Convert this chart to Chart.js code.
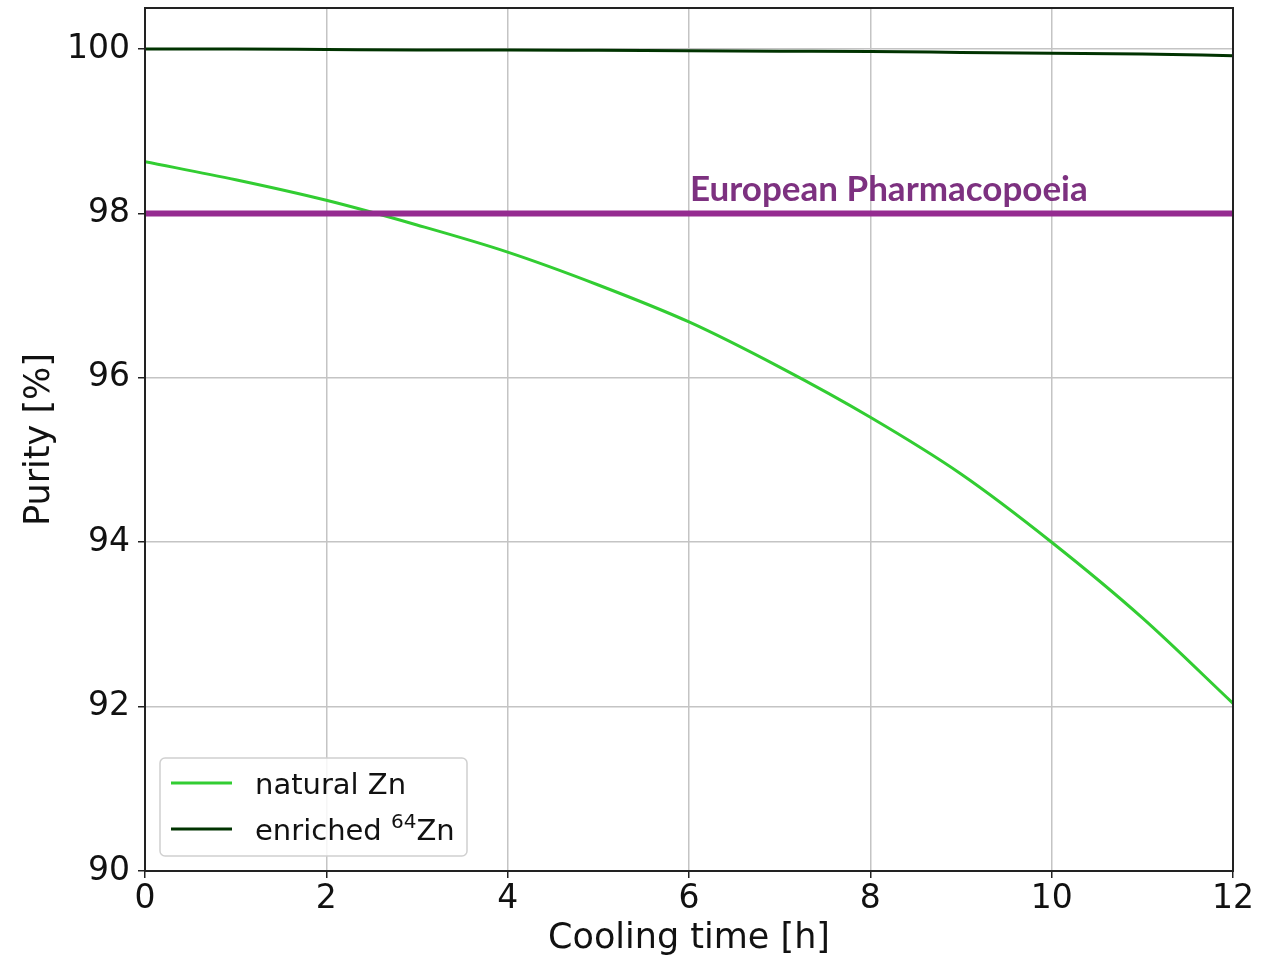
<!DOCTYPE html>
<html>
<head>
<meta charset="utf-8">
<script src="https://cdn.jsdelivr.net/npm/chart.js@4"></script>
<style>
  html, body { margin: 0; padding: 0; background: #fff; }
  #wrap { width: 1276px; height: 960px; position: relative; }
</style>
</head>
<body>
<div id="wrap"><canvas id="chart"></canvas></div>
<script>
// Cooling time [h]
const hours = [0, 1, 2, 3, 4, 5, 6, 7, 8, 9, 10, 11, 12];
// Purity [%]
const naturalZn = [98.63, 98.41, 98.16, 97.86, 97.53, 97.13, 96.68, 96.13, 95.52, 94.83, 94.00, 93.08, 92.04];
const enrichedZn = [100.0, 100.0, 99.995, 99.99, 99.99, 99.985, 99.98, 99.975, 99.97, 99.96, 99.95, 99.94, 99.92];
const pharmaLimit = 98;
const pharmaLabel = 'European Pharmacopoeia';
const xTicks = [0, 2, 4, 6, 8, 10, 12];
const yTicks = [90, 92, 94, 96, 98, 100];

const font = 'DejaVu Sans';
const gridColor = '#c4c4c4';
const axisColor = '#222222';
const supDigits = '\u2070\u00b9\u00b2\u00b3\u2074\u2075\u2076\u2077\u2078\u2079';

function pts(xs, ys) {
  return xs.map((x, i) => ({x: x, y: ys[i]}));
}

// draw a label, rendering unicode superscript digits as raised smaller text
function drawLabel(ctx, text, x, y, size) {
  let parts = [];
  for (const ch of text) {
    const sup = supDigits.indexOf(ch) >= 0;
    const c = sup ? String(supDigits.indexOf(ch)) : ch;
    const last = parts[parts.length - 1];
    if (last && last.sup === sup) last.t += c;
    else parts.push({t: c, sup: sup});
  }
  parts.forEach(p => {
    const s = p.sup ? Math.round(size * 0.7) : size;
    ctx.font = s + 'px ' + font;
    ctx.fillText(p.t, x, p.sup ? y - size * 0.4 : y);
    x += ctx.measureText(p.t).width;
  });
}

// frame + annotation + legend inside the axes
const extras = {
  id: 'extras',
  afterDatasetsDraw(chart) {
    const {ctx, chartArea: a, scales} = chart;
    ctx.save();

    // annotation text above the limit line
    ctx.fillStyle = '#7d3180';
    ctx.font = 'bold 35px Lato';
    ctx.textAlign = 'left';
    ctx.textBaseline = 'alphabetic';
    ctx.fillText(pharmaLabel, scales.x.getPixelForValue(6) + 1, scales.y.getPixelForValue(pharmaLimit) - 12);

    // spines
    ctx.strokeStyle = axisColor;
    ctx.lineWidth = 2;
    ctx.strokeRect(a.left, a.top, a.right - a.left, a.bottom - a.top);

    // legend box
    const bx = 160, by = 758, bw = 307, bh = 98;
    ctx.beginPath();
    ctx.roundRect(bx, by, bw, bh, 5);
    ctx.fillStyle = 'rgba(255,255,255,0.85)';
    ctx.fill();
    ctx.strokeStyle = '#d0d0d0';
    ctx.lineWidth = 1.5;
    ctx.stroke();

    const entries = chart.data.datasets.filter(d => d.inLegend);
    entries.forEach((d, i) => {
      const y = 783 + i * 46;
      ctx.strokeStyle = d.borderColor;
      ctx.lineWidth = 3;
      ctx.beginPath();
      ctx.moveTo(171, y);
      ctx.lineTo(232, y);
      ctx.stroke();
      ctx.fillStyle = '#111';
      ctx.textBaseline = 'alphabetic';
      drawLabel(ctx, d.label, 255, y + 11, 29);
    });
    ctx.restore();
  }
};

const config = {
  type: 'line',
  data: {
    datasets: [
      {
        label: pharmaLabel,
        data: pts([0, 12], [pharmaLimit, pharmaLimit]),
        borderColor: '#952b90',
        borderWidth: 6,
        pointRadius: 0,
        order: 0
      },
      {
        label: 'natural Zn',
        inLegend: true,
        data: pts(hours, naturalZn),
        borderColor: '#32cd32',
        borderWidth: 3,
        pointRadius: 0,
        cubicInterpolationMode: 'monotone',
        order: 1
      },
      {
        label: 'enriched \u2076\u2074Zn',
        inLegend: true,
        data: pts(hours, enrichedZn),
        borderColor: '#003300',
        borderWidth: 3,
        pointRadius: 0,
        cubicInterpolationMode: 'monotone',
        order: 1
      }
    ]
  },
  options: {
    responsive: false,
    animation: false,
    events: [],
    layout: {padding: {top: 8, right: 43, left: 0, bottom: 0}},
    plugins: {
      legend: {display: false},
      tooltip: {enabled: false}
    },
    scales: {
      x: {
        type: 'linear',
        min: 0,
        max: 12,
        afterBuildTicks: axis => { axis.ticks = xTicks.map(v => ({value: v})); },
        afterFit: axis => { axis.height = 89; },
        ticks: {
          font: {family: font, size: 33},
          color: '#111',
          padding: 2,
          maxRotation: 0
        },
        grid: {color: gridColor, lineWidth: 1.5, tickColor: axisColor, tickLength: 7},
        border: {display: false},
        title: {
          display: true,
          text: 'Cooling time [h]',
          font: {family: font, size: 35},
          color: '#111',
          padding: {top: 3, bottom: 0}
        }
      },
      y: {
        type: 'linear',
        min: 90,
        max: 100.5,
        afterBuildTicks: axis => { axis.ticks = yTicks.map(v => ({value: v})); },
        afterFit: axis => {
          axis.width = 145;
          axis.paddingTop = 0;
          axis.paddingBottom = 0;
        },
        ticks: {
          font: {family: font, size: 33},
          color: '#111',
          padding: 8
        },
        grid: {color: gridColor, lineWidth: 1.5, tickColor: axisColor, tickLength: 7},
        border: {display: false},
        title: {
          display: true,
          text: 'Purity [%]',
          font: {family: font, size: 35},
          color: '#111',
          padding: {top: 19, bottom: 0}
        }
      }
    }
  },
  plugins: [extras]
};

const canvas = document.getElementById('chart');
canvas.width = 1276;
canvas.height = 960;
new Chart(canvas, config);
</script>
</body>
</html>
